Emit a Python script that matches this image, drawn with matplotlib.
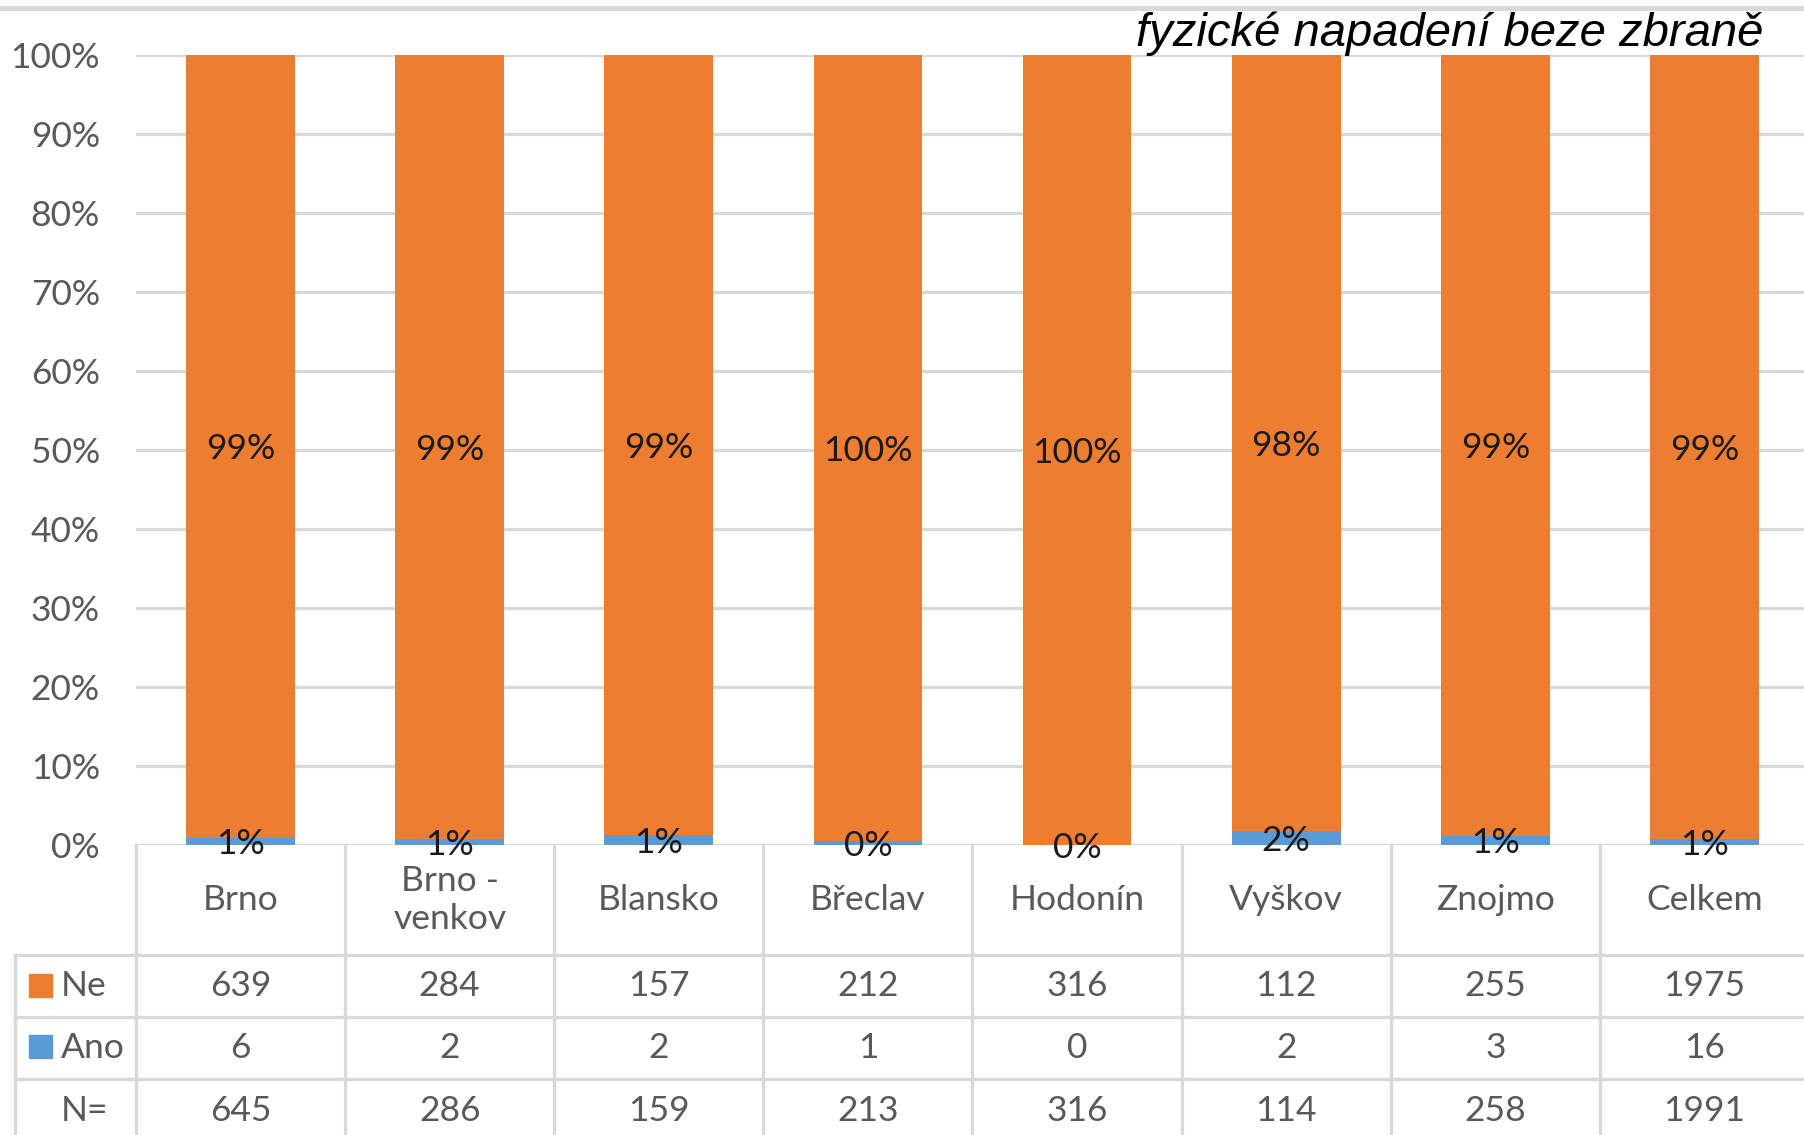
import matplotlib
matplotlib.use("Agg")
import matplotlib.pyplot as plt
import matplotlib.transforms as mtransforms
from matplotlib.patches import Rectangle

categories = ["Brno", "Brno -\nvenkov", "Blansko", "Břeclav", "Hodonín", "Vyškov", "Znojmo", "Celkem"]
ne_counts = [639, 284, 157, 212, 316, 112, 255, 1975]
ano_counts = [6, 2, 2, 1, 0, 2, 3, 16]
n_counts = [645, 286, 159, 213, 316, 114, 258, 1991]
subtitle = "fyzické napadení beze zbraně"
yticks = [0, 0.1, 0.2, 0.3, 0.4, 0.5, 0.6, 0.7, 0.8, 0.9, 1.0]

ORANGE = "#ED7D31"
BLUE = "#5B9BD5"
GRID = "#D9D9D9"
GRAYTXT = "#595959"
FONT = ["Lato", "DejaVu Sans"]
FS = 25.5

W, H = 1804, 1135
fig = plt.figure(figsize=(W / 100, H / 100), dpi=100)


def fx(x):
    return x / W


def fy(y):
    return 1 - y / H


ax = fig.add_axes([fx(136), fy(845), (1809 - 136) / W, fy(55) - fy(845)])
x = list(range(len(categories)))
ano_pct = [a / n for a, n in zip(ano_counts, n_counts)]
ne_pct = [b / n for b, n in zip(ne_counts, n_counts)]

ax.bar(x, ano_pct, width=0.52, color=BLUE, zorder=3)
ax.bar(x, ne_pct, width=0.52, bottom=ano_pct, color=ORANGE, zorder=3)

for i in x:
    ax.annotate(f"{ne_pct[i] * 100:.0f}%", (i, ano_pct[i] + ne_pct[i] / 2), xytext=(0, -3),
                textcoords="offset pixels", ha="center", va="center",
                fontsize=FS, color="#1a1a1a", family=FONT, zorder=5)
    ax.annotate(f"{ano_pct[i] * 100:.0f}%", (i, ano_pct[i] / 2), xytext=(0, -3),
                textcoords="offset pixels", ha="center", va="center",
                fontsize=FS, color="#1a1a1a", family=FONT, zorder=5, annotation_clip=False)

ax.set_xlim(-0.5, 7.5)
ax.set_ylim(0, 1)
ax.set_yticks(yticks)
ax.set_yticklabels([f"{int(round(t * 100))}%" for t in yticks], family=FONT, fontsize=FS, color=GRAYTXT)
ax.set_xticks([])
ax.tick_params(axis="y", length=0, pad=26)
for s in ax.spines.values():
    s.set_visible(False)
for t in yticks:
    ax.axhline(t, color=GRID, lw=2.4, zorder=1)

# table
trans = mtransforms.blended_transform_factory(ax.transData, fig.transFigure)
for b in range(len(categories) + 1):
    xb = b - 0.5
    fig.add_artist(plt.Line2D([xb, xb], [fy(845), fy(1140)], transform=trans, color=GRID, lw=2.4))
fig.add_artist(plt.Line2D([fx(15), fx(15)], [fy(955), fy(1140)], transform=fig.transFigure, color=GRID, lw=2.4))
for yl in [955, 1017, 1079]:
    fig.add_artist(plt.Line2D([fx(15), 1], [fy(yl), fy(yl)], transform=fig.transFigure, color=GRID, lw=2.4))

for i, c in enumerate(categories):
    fig.text(0, 0, c, transform=trans, ha="center", va="center", fontsize=FS, color=GRAYTXT,
             family=FONT, linespacing=1.25).set_position((i, fy(900)))
    fig.text(0, 0, str(ne_counts[i]), transform=trans, ha="center", va="center", fontsize=FS,
             color=GRAYTXT, family=FONT).set_position((i, fy(986)))
    fig.text(0, 0, str(ano_counts[i]), transform=trans, ha="center", va="center", fontsize=FS,
             color=GRAYTXT, family=FONT).set_position((i, fy(1048)))
    fig.text(0, 0, str(n_counts[i]), transform=trans, ha="center", va="center", fontsize=FS,
             color=GRAYTXT, family=FONT).set_position((i, fy(1111)))

fig.add_artist(Rectangle((fx(29), fy(997)), fx(23), fy(974) - fy(997), transform=fig.transFigure,
                         color=ORANGE))
fig.add_artist(Rectangle((fx(29), fy(1058)), fx(23), fy(1035) - fy(1058), transform=fig.transFigure,
                         color=BLUE))
fig.text(fx(61), fy(986), "Ne", ha="left", va="center", fontsize=FS, color=GRAYTXT, family=FONT)
fig.text(fx(61), fy(1048), "Ano", ha="left", va="center", fontsize=FS, color=GRAYTXT, family=FONT)
fig.text(fx(61), fy(1111), "N=", ha="left", va="center", fontsize=FS, color=GRAYTXT, family=FONT)

# top separator line and subtitle
fig.add_artist(plt.Line2D([0, 1], [fy(8), fy(8)], transform=fig.transFigure, color=GRID, lw=3.6))
fig.text(fx(1763), fy(46), subtitle, ha="right", va="baseline", fontsize=34, style="italic",
         family=["Liberation Sans", "DejaVu Sans"], color="black")

fig.savefig("out.png", dpi=100)
